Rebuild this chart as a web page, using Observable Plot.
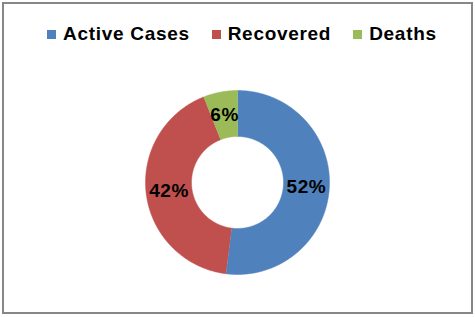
<!DOCTYPE html>
<html><head><meta charset="utf-8">
<script src="https://cdn.jsdelivr.net/npm/d3@7"></script>
<script src="https://cdn.jsdelivr.net/npm/@observablehq/plot@0.6"></script>
<style>
html,body{margin:0;padding:0;background:#fff;}
#wrap{position:relative;width:475px;height:317px;overflow:hidden;font-family:Arial,"Liberation Sans",sans-serif;}
#frame{position:absolute;left:2px;top:2px;width:471px;height:312px;box-sizing:border-box;border:2px solid #878787;pointer-events:none;}
#legend{height:50px;box-sizing:border-box;padding-top:23px;padding-left:47px;}
#legend > div{margin:0 !important;font:bold 19px Arial,"Liberation Sans",sans-serif !important;letter-spacing:0.7px;line-height:20px;display:flex !important;flex-wrap:nowrap !important;align-items:center;min-height:0 !important;color:#000;}
#legend span{display:inline-flex !important;align-items:center;margin-right:22px !important;}
#legend svg{margin-right:7px !important;}
#chart svg{display:block;}
#chart text{letter-spacing:0.5px;}
</style></head>
<body><div id="wrap"><div id="legend"></div><div id="chart"></div><div id="frame"></div></div>
<script>
const categories = ["Active Cases", "Recovered", "Deaths"];
const percents = [52, 42, 6];
const colors = ["#4F81BD", "#C0504D", "#9BBB59"];

const table = categories.map((c, i) => ({name: c, value: percents[i]}));
const arcs = d3.pie().sort(null).value(d => d.value).startAngle(0).endAngle(2 * Math.PI)(table);
const inner = 0.5, outer = 1, labelR = 0.75;
const ring = [];
for (const a of arcs) {
  const n = Math.max(2, Math.ceil((a.endAngle - a.startAngle) / (Math.PI / 360)));
  for (let k = 0; k <= n; k++) {
    const t = a.startAngle + (a.endAngle - a.startAngle) * k / n;
    ring.push({name: a.data.name, x: outer * Math.sin(t), y: outer * Math.cos(t)});
  }
  for (let k = n; k >= 0; k--) {
    const t = a.startAngle + (a.endAngle - a.startAngle) * k / n;
    ring.push({name: a.data.name, x: inner * Math.sin(t), y: inner * Math.cos(t)});
  }
}
const labels = arcs.map(a => {
  const t = (a.startAngle + a.endAngle) / 2;
  return {name: a.data.name, x: labelR * Math.sin(t), y: labelR * Math.cos(t), label: a.data.value + "%"};
});

const legend = Plot.legend({
  color: {domain: categories, range: colors},
  legend: "swatches",
  swatchSize: 9
});
document.getElementById("legend").appendChild(legend);

const R = 92, cx = 237, cy = 132, W = 475, H = 267;
const chart = Plot.plot({
  width: W, height: H, margin: 0,
  style: {background: "white", overflow: "visible"},
  x: {domain: [-cx / R, (W - cx) / R], axis: null},
  y: {domain: [-(H - cy) / R, cy / R], axis: null},
  color: {domain: categories, range: colors},
  marks: [
    Plot.line(ring, {x: "x", y: "y", z: "name", fill: "name", stroke: "name", strokeWidth: 0.5}),
    Plot.text(labels, {x: "x", y: "y", text: "label", fontSize: 19, fontWeight: "bold", fill: "black",
      fontFamily: "Arial, 'Liberation Sans', sans-serif"})
  ]
});
document.getElementById("chart").appendChild(chart);
</script>
</body></html>
